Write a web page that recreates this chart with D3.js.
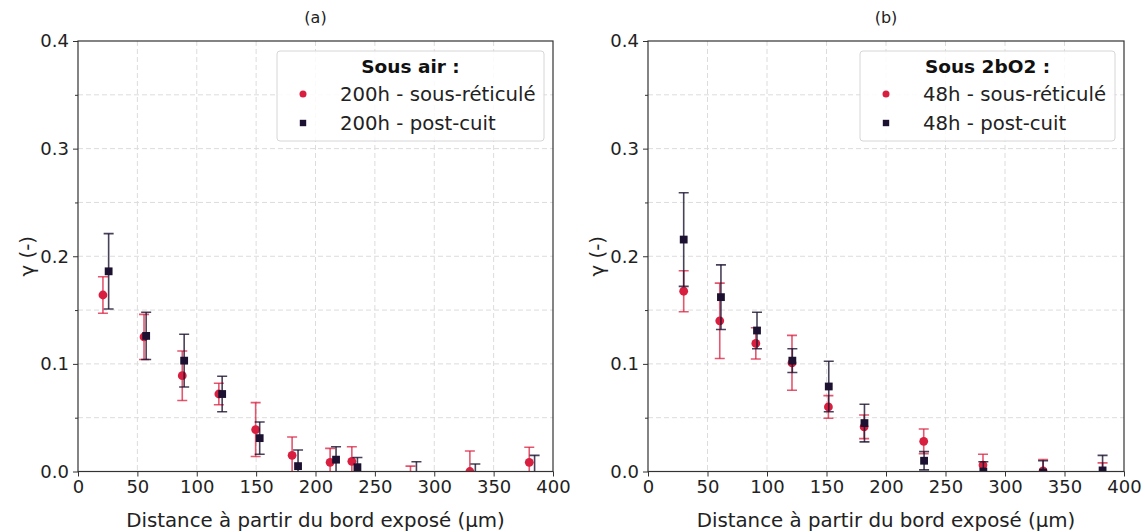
<!DOCTYPE html>
<html>
<head>
<meta charset="utf-8">
<script src="https://cdn.jsdelivr.net/npm/d3@7"></script>
<style>
html,body{margin:0;padding:0;background:#fff;}
svg{display:block;font-family:"DejaVu Sans",sans-serif;}
</style>
</head>
<body>
<svg id="chart" width="1145" height="532"></svg>
<script>
// ---- Data ----
const panelTitles = ["(a)", "(b)"];
const legendTitles = ["Sous air :", "Sous 2bO2 :"];
const seriesNamesA = ["200h - sous-réticulé", "200h - post-cuit"];
const seriesNamesB = ["48h - sous-réticulé", "48h - post-cuit"];

// Panel (a) — sous-réticulé
const aRedX   = [21, 55.6, 87.8, 118.6, 149.6, 180.3, 212.3, 230.6, 280, 330, 380];
const aRedY   = [0.164, 0.125, 0.089, 0.072, 0.039, 0.015, 0.0085, 0.0095, -0.005, 0.0, 0.0085];
const aRedErr = [0.017, 0.021, 0.023, 0.010, 0.025, 0.017, 0.013, 0.0135, 0.010, 0.019, 0.014];
// Panel (a) — post-cuit
const aDarkX   = [25.8, 57.4, 89.4, 121.4, 153, 185.3, 217.3, 235.3, 285, 334.6, 384.5];
const aDarkY   = [0.186, 0.126, 0.103, 0.072, 0.031, 0.005, 0.011, 0.004, -0.005, -0.005, -0.005];
const aDarkErr = [0.035, 0.022, 0.0245, 0.0165, 0.015, 0.015, 0.012, 0.009, 0.014, 0.012, 0.020];

// Panel (b) — sous-réticulé
const bRedX   = [30, 60.3, 90.6, 121, 151.6, 181.6, 231.7, 281.5, 332, 382];
const bRedY   = [0.1675, 0.140, 0.119, 0.101, 0.060, 0.0415, 0.028, 0.006, 0.0006, -0.004];
const bRedErr = [0.019, 0.035, 0.0145, 0.0255, 0.0105, 0.011, 0.0115, 0.010, 0.0105, 0.012];
// Panel (b) — post-cuit
const bDarkX   = [30, 61.3, 91.6, 121.3, 151.9, 181.9, 232, 281.8, 332, 382];
const bDarkY   = [0.2155, 0.162, 0.131, 0.103, 0.079, 0.045, 0.010, 0.0, -0.001, 0.001];
const bDarkErr = [0.0435, 0.030, 0.017, 0.011, 0.0235, 0.0175, 0.0085, 0.009, 0.011, 0.014];

const xTicks = [0, 50, 100, 150, 200, 250, 300, 350, 400];
const yTicks = [0.0, 0.1, 0.2, 0.3, 0.4];
const yMinorTicks = [0.05, 0.15, 0.25, 0.35];
const xLabel = "Distance à partir du bord exposé (µm)";
const yLabel = "γ (-)";

// ---- Style ----
const RED = "#d91f3f", RED_ERR = "rgba(217,31,63,0.75)";
const DARK = "#1c1130", DARK_ERR = "rgba(28,17,48,0.8)";
const AXIS = "#333";
const FONT = "DejaVu Sans, sans-serif";

const svg = d3.select("#chart");

const panels = [
  {left:78, right:553, title:panelTitles[0], legTitle:legendTitles[0], names:seriesNamesA,
   legBox:[277,51,544,141],
   series:[{x:aRedX,y:aRedY,e:aRedErr,kind:"circle"},{x:aDarkX,y:aDarkY,e:aDarkErr,kind:"square"}]},
  {left:648, right:1124, title:panelTitles[1], legTitle:legendTitles[1], names:seriesNamesB,
   legBox:[860,51,1115,141],
   series:[{x:bRedX,y:bRedY,e:bRedErr,kind:"circle"},{x:bDarkX,y:bDarkY,e:bDarkErr,kind:"square"}]}
];
const plotTop = 41, plotBottom = 471.5;

panels.forEach((p, pi) => {
  const x = d3.scaleLinear().domain([0,400]).range([p.left, p.right]);
  const y = d3.scaleLinear().domain([0,0.4]).range([plotBottom, plotTop]);
  const g = svg.append("g");

  const clipId = "clip" + pi;
  svg.append("clipPath").attr("id", clipId).append("rect")
    .attr("x", p.left).attr("y", plotTop).attr("width", p.right - p.left).attr("height", plotBottom - plotTop);

  // grid
  const grid = g.append("g");
  xTicks.slice(1, -1).forEach(t => {
    grid.append("line").attr("x1", x(t)).attr("x2", x(t)).attr("y1", plotTop).attr("y2", plotBottom)
      .attr("stroke", "#dcdcdc").attr("stroke-width", 1).attr("stroke-dasharray", "5,3");
  });
  yTicks.concat(yMinorTicks).filter(t => t > 0 && t < 0.4).forEach(t => {
    grid.append("line").attr("x1", p.left).attr("x2", p.right).attr("y1", y(t)).attr("y2", y(t))
      .attr("stroke", "#dcdcdc").attr("stroke-width", 1).attr("stroke-dasharray", "5,3");
  });

  // data
  const data = g.append("g").attr("clip-path", `url(#${clipId})`);
  p.series.forEach(s => {
    const col = s.kind === "circle" ? RED : DARK;
    const ecol = s.kind === "circle" ? RED_ERR : DARK_ERR;
    const pts = s.x.map((xv, i) => ({x: xv, y: s.y[i], e: s.e[i]}));
    const eb = data.append("g");
    pts.forEach(d => {
      const cx = x(d.x), y1 = y(d.y - d.e), y2 = y(d.y + d.e);
      eb.append("line").attr("x1", cx).attr("x2", cx).attr("y1", y1).attr("y2", y2)
        .attr("stroke", ecol).attr("stroke-width", 1.6);
      [y1, y2].forEach(yy => eb.append("line").attr("x1", cx - 5).attr("x2", cx + 5)
        .attr("y1", yy).attr("y2", yy).attr("stroke", ecol).attr("stroke-width", 1.6));
    });
    if (s.kind === "circle") {
      data.append("g").selectAll("circle").data(pts).join("circle")
        .attr("cx", d => x(d.x)).attr("cy", d => y(d.y)).attr("r", 4.4).attr("fill", col);
    } else {
      data.append("g").selectAll("rect").data(pts).join("rect")
        .attr("x", d => x(d.x) - 3.9).attr("y", d => y(d.y) - 3.9)
        .attr("width", 7.8).attr("height", 7.8).attr("fill", col);
    }
  });

  // axes
  const xAxis = d3.axisBottom(x).tickValues(xTicks).tickFormat(d3.format("d")).tickSize(5).tickPadding(4);
  const gx = g.append("g").attr("transform", `translate(0,${plotBottom})`).call(xAxis);
  const yAxis = d3.axisLeft(y).tickValues(yTicks).tickFormat(d3.format(".1f")).tickSize(5).tickPadding(4);
  const gy = g.append("g").attr("transform", `translate(${p.left},0)`).call(yAxis);
  const gym = g.append("g").attr("transform", `translate(${p.left},0)`)
    .call(d3.axisLeft(y).tickValues(yMinorTicks).tickFormat("").tickSize(3));
  [gx, gy, gym].forEach(a => {
    a.selectAll("text").attr("font-family", FONT).attr("font-size", 18).attr("fill", "#222");
    a.selectAll("line").attr("stroke", AXIS).attr("stroke-width", 1);
    a.select(".domain").remove();
  });
  // frame
  g.append("rect").attr("x", p.left).attr("y", plotTop).attr("width", p.right - p.left).attr("height", plotBottom - plotTop)
    .attr("fill", "none").attr("stroke", AXIS).attr("stroke-width", 1.2);

  // titles
  const cx = (p.left + p.right) / 2;
  g.append("text").attr("x", cx).attr("y", 23).attr("text-anchor", "middle")
    .attr("font-family", FONT).attr("font-size", 16).attr("fill", "#222").text(p.title);
  g.append("text").attr("x", cx).attr("y", 527).attr("text-anchor", "middle")
    .attr("font-family", FONT).attr("font-size", 19.8).attr("fill", "#222").text(xLabel);
  g.append("text").attr("transform", `translate(${p.left - 44},${(plotTop + plotBottom) / 2}) rotate(-90)`)
    .attr("text-anchor", "middle").attr("font-family", FONT).attr("font-size", 19.8).attr("fill", "#222").text(yLabel);

  // legend
  const [lx0, ly0, lx1, ly1] = p.legBox;
  const lg = g.append("g");
  lg.append("rect").attr("x", lx0).attr("y", ly0).attr("width", lx1 - lx0).attr("height", ly1 - ly0)
    .attr("rx", 3).attr("fill", "rgba(255,255,255,0.85)").attr("stroke", "#d6d6d6").attr("stroke-width", 1);
  lg.append("text").attr("x", (lx0 + lx1) / 2).attr("y", ly0 + 22).attr("text-anchor", "middle")
    .attr("font-family", FONT).attr("font-size", 18.5).attr("font-weight", "bold").attr("fill", "#111").text(p.legTitle);
  const mx = lx0 + 26;
  const rows = [ly0 + 43, ly0 + 72];
  lg.append("circle").attr("cx", mx).attr("cy", rows[0]).attr("r", 3.5).attr("fill", RED);
  lg.append("rect").attr("x", mx - 3.2).attr("y", rows[1] - 3.2).attr("width", 6.4).attr("height", 6.4).attr("fill", DARK);
  p.names.forEach((n, i) => {
    lg.append("text").attr("x", lx0 + 63).attr("y", rows[i] + 7).attr("font-family", FONT)
      .attr("font-size", 19.7).attr("fill", "#222").text(n);
  });
});
</script>
</body>
</html>
